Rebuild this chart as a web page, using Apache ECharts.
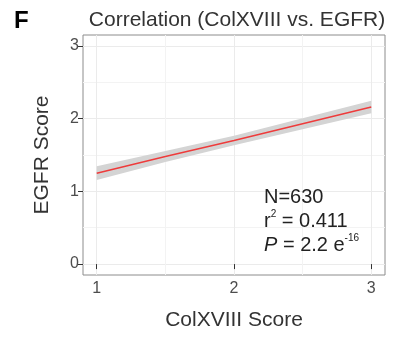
<!DOCTYPE html>
<html>
<head>
<meta charset="utf-8">
<script src="https://cdn.jsdelivr.net/npm/echarts@6/dist/echarts.min.js"></script>
<style>
html,body{margin:0;padding:0;background:#fff;}
#c{width:393px;height:337px;}
</style>
</head>
<body>
<div id="c"></div>
<script>
// Data
const fitX = [1, 1.5, 2, 2.5, 3];
const fitY = [1.25, 1.48, 1.70, 1.93, 2.16];
const lowerY = [1.155, 1.405, 1.635, 1.855, 2.075];
const upperY = [1.345, 1.555, 1.765, 2.005, 2.245];
const xTicks = [1, 2, 3];
const yTicks = [0, 1, 2, 3];
const xMinor = [1.5, 2.5];
const yMinor = [0.5, 1.5, 2.5];
const titleText = 'Correlation (ColXVIII vs. EGFR)';
const xName = 'ColXVIII Score';
const yName = 'EGFR Score';

const chart = echarts.init(document.getElementById('c'), null, {renderer: 'canvas'});
const FONT = '"Liberation Sans", Arial, sans-serif';
const gridLineColor = '#ebebeb';

const bandData = fitX.map((x, i) => [x, lowerY[i], upperY[i]]);
const fitPts = fitX.map((x, i) => [x, fitY[i]]);

function mainX() {
  return {
    type: 'value', min: 0.9, max: 3.1, gridIndex: 0,
    name: xName, nameLocation: 'middle', nameGap: 35,
    nameTextStyle: {fontFamily: FONT, fontSize: 21, color: '#333'},
    axisLine: {show: false},
    axisTick: {show: true, length: 5, customValues: xTicks, lineStyle: {color: '#333', width: 1}},
    axisLabel: {customValues: xTicks, fontFamily: FONT, fontSize: 16, color: '#4d4d4d', margin: 6},
    splitLine: {show: true, lineStyle: {color: gridLineColor, width: 1}}
  };
}
function mainY() {
  return {
    type: 'value', min: -0.15, max: 3.15, gridIndex: 0,
    name: yName, nameLocation: 'middle', nameGap: 30, nameRotate: 90,
    nameTextStyle: {fontFamily: FONT, fontSize: 21, color: '#333'},
    axisLine: {show: false},
    axisTick: {show: true, length: 5, customValues: yTicks, lineStyle: {color: '#333', width: 1}},
    axisLabel: {customValues: yTicks, fontFamily: FONT, fontSize: 16, color: '#4d4d4d', margin: 4},
    splitLine: {show: true, lineStyle: {color: gridLineColor, width: 1}}
  };
}

const option = {
  backgroundColor: '#fff',
  animation: false,
  title: {
    text: titleText, left: 232, top: 5, textAlign: 'center',
    textStyle: {fontFamily: FONT, fontSize: 21, fontWeight: 'normal', color: '#333'}
  },
  grid: [
    {left: 83, right: 8, top: 35, bottom: 62, show: true, borderColor: '#8c8c8c', borderWidth: 1, backgroundColor: 'transparent'},
    {left: 83, right: 8, top: 35, bottom: 62, show: false}
  ],
  xAxis: [
    mainX(),
    {type: 'value', min: 0.9, max: 3.1, gridIndex: 1, axisLine: {show: false},
     axisTick: {show: false, customValues: xMinor}, axisLabel: {show: false, customValues: xMinor},
     splitLine: {show: true, lineStyle: {color: '#f3f3f3', width: 1}}}
  ],
  yAxis: [
    mainY(),
    {type: 'value', min: -0.15, max: 3.15, gridIndex: 1, axisLine: {show: false},
     axisTick: {show: false, customValues: yMinor}, axisLabel: {show: false, customValues: yMinor},
     splitLine: {show: true, lineStyle: {color: '#f3f3f3', width: 1}}}
  ],
  series: [
    {type: 'custom', xAxisIndex: 0, yAxisIndex: 0, data: bandData, silent: true, z: 3,
     encode: {x: 0, y: [1, 2]},
     renderItem: function (params, api) {
       if (params.dataIndex !== 0) return null;
       const top = [], bot = [];
       for (let i = 0; i < bandData.length; i++) {
         top.push(api.coord([bandData[i][0], bandData[i][2]]));
         bot.unshift(api.coord([bandData[i][0], bandData[i][1]]));
       }
       return {type: 'polygon', shape: {points: top.concat(bot)}, style: {fill: '#d4d4d4'}};
     }},
    {type: 'line', xAxisIndex: 0, yAxisIndex: 0, data: fitPts, symbol: 'none',
     lineStyle: {color: '#ee3b3b', width: 1.5}, z: 5}
  ],
  graphic: [
    {type: 'text', left: 14, top: 9, z: 100,
     style: {text: 'F', fontFamily: FONT, fontSize: 24, fontWeight: 'bold', fill: '#000'}},
    {type: 'text', left: 264, top: 185, z: 100,
     style: {
       text: '{n|N=630}\n{n|r}{sup|2}{n| = 0.411}\n{i|P}{n| = 2.2 e}{sup|-16}',
       fontFamily: FONT, fontSize: 20, fill: '#222', lineHeight: 24,
       rich: {
         n: {fontFamily: FONT, fontSize: 20, fill: '#222', lineHeight: 24},
         i: {fontFamily: FONT, fontSize: 20, fontStyle: 'italic', fill: '#222', lineHeight: 24},
         sup: {fontFamily: FONT, fontSize: 10, fill: '#222', verticalAlign: 'top', lineHeight: 24, padding: [0, 0, 12, 0]}
       }
     }}
  ]
};
chart.setOption(option);
</script>
</body>
</html>
